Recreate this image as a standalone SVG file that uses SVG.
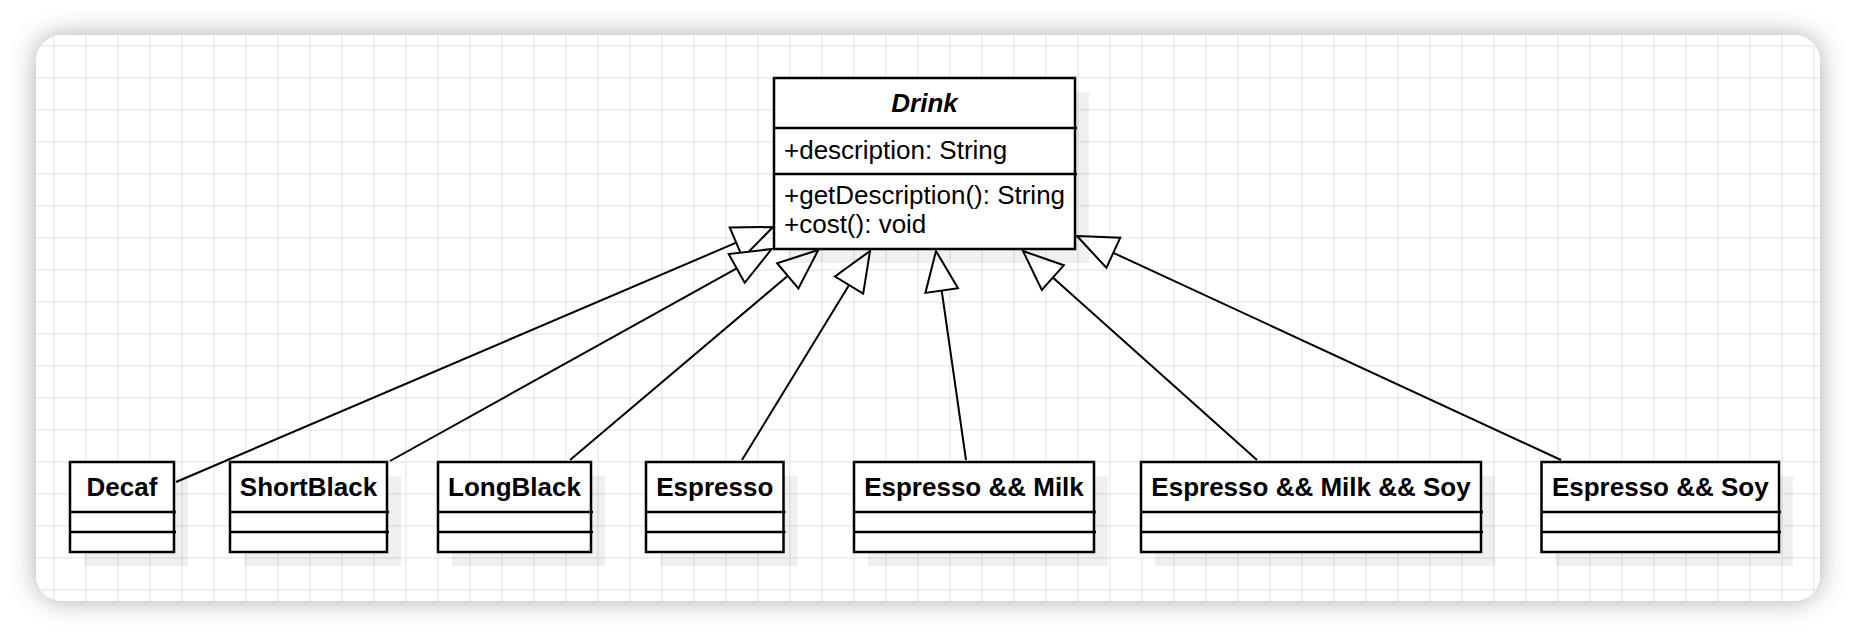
<svg xmlns="http://www.w3.org/2000/svg" width="1856" height="638" viewBox="0 0 1856 638">
<defs>
<style>
.box{fill:#fff;stroke:#000;stroke-width:2.5}
.sep{stroke:#000;stroke-width:2.5;fill:none}
.shd{fill:#000;fill-opacity:0.06}
.name{font-family:"Liberation Sans",Arial,sans-serif;font-size:26px;font-weight:bold;text-anchor:middle;fill:#000}
.attr{font-family:"Liberation Sans",Arial,sans-serif;font-size:26px;fill:#000}
.edge{stroke:#000;stroke-width:2;fill:none}
.head{fill:#fff;stroke:#000;stroke-width:2;stroke-linejoin:miter}
</style>
<filter id="cardShadow" x="-5%" y="-12%" width="110%" height="124%">
<feDropShadow dx="0" dy="0" stdDeviation="13" flood-color="#000" flood-opacity="0.32"/>
</filter>
<pattern id="grid" x="0" y="0" width="32" height="32" patternUnits="userSpaceOnUse">
<path d="M22 0 V32 M0 14 H32" stroke="#ebebeb" stroke-width="1.5" fill="none"/>
</pattern>
<clipPath id="cardClip"><rect x="36" y="35" width="1784" height="566" rx="26" ry="26"/></clipPath>
</defs>
<rect x="0" y="0" width="1856" height="638" fill="#fff"/>
<rect x="36" y="35" width="1784" height="566" rx="26" ry="26" fill="#fff" filter="url(#cardShadow)"/>
<rect x="36" y="35" width="1784" height="566" fill="url(#grid)" clip-path="url(#cardClip)"/>

<g id="connectors">
<line class="edge" x1="176" y1="482" x2="736.2" y2="242.7"/>
<polygon class="head" points="773,227 742.7,257.9 729.7,227.5"/>
<line class="edge" x1="390" y1="461" x2="736.7" y2="268.4"/>
<polygon class="head" points="771.7,249 744.7,282.8 728.7,254"/>
<line class="edge" x1="570" y1="460" x2="787.8" y2="275.8"/>
<polygon class="head" points="818.3,250 798.4,288.4 777.1,263.2"/>
<line class="edge" x1="742" y1="460" x2="849.1" y2="285.1"/>
<polygon class="head" points="870,251 863.2,293.7 835,276.5"/>
<line class="edge" x1="966" y1="460" x2="941.7" y2="290.6"/>
<polygon class="head" points="936,251 958,288.3 925.4,292.9"/>
<line class="edge" x1="1257" y1="460" x2="1052.8" y2="277.6"/>
<polygon class="head" points="1023,251 1063.8,265.3 1041.8,290"/>
<line class="edge" x1="1561" y1="460" x2="1113.3" y2="252.8"/>
<polygon class="head" points="1077,236 1120.2,237.8 1106.4,267.8"/>
</g>

<g id="drink">
<rect class="shd" x="788" y="92" width="301" height="171"/>
<rect class="box" x="774" y="78" width="301" height="171"/>
<line class="sep" x1="774" y1="128" x2="1077" y2="128"/>
<line class="sep" x1="774" y1="174" x2="1077" y2="174"/>
<text class="name" x="924.5" y="112" font-style="italic">Drink</text>
<text class="attr" x="784" y="159">+description: String</text>
<text class="attr" x="784" y="204">+getDescription(): String</text>
<text class="attr" x="784" y="233">+cost(): void</text>
</g>

<g id="decaf">
<rect class="shd" x="84" y="476" width="104" height="90"/>
<rect class="box" x="70" y="462" width="104" height="90"/>
<line class="sep" x1="70" y1="512" x2="176" y2="512"/>
<line class="sep" x1="70" y1="532" x2="176" y2="532"/>
<text class="name" x="122" y="496">Decaf</text>
</g>

<g id="shortblack">
<rect class="shd" x="244" y="476" width="157" height="90"/>
<rect class="box" x="230" y="462" width="157" height="90"/>
<line class="sep" x1="230" y1="512" x2="389" y2="512"/>
<line class="sep" x1="230" y1="532" x2="389" y2="532"/>
<text class="name" x="308.5" y="496">ShortBlack</text>
</g>

<g id="longblack">
<rect class="shd" x="452" y="476" width="153" height="90"/>
<rect class="box" x="438" y="462" width="153" height="90"/>
<line class="sep" x1="438" y1="512" x2="593" y2="512"/>
<line class="sep" x1="438" y1="532" x2="593" y2="532"/>
<text class="name" x="514.5" y="496">LongBlack</text>
</g>

<g id="espresso">
<rect class="shd" x="660" y="476" width="137.5" height="90"/>
<rect class="box" x="646" y="462" width="137.5" height="90"/>
<line class="sep" x1="646" y1="512" x2="785.5" y2="512"/>
<line class="sep" x1="646" y1="532" x2="785.5" y2="532"/>
<text class="name" x="714.8" y="496">Espresso</text>
</g>

<g id="espresso-milk">
<rect class="shd" x="868" y="476" width="240" height="90"/>
<rect class="box" x="854" y="462" width="240" height="90"/>
<line class="sep" x1="854" y1="512" x2="1096" y2="512"/>
<line class="sep" x1="854" y1="532" x2="1096" y2="532"/>
<text class="name" x="974" y="496">Espresso &amp;&amp; Milk</text>
</g>

<g id="espresso-milk-soy">
<rect class="shd" x="1155" y="476" width="340" height="90"/>
<rect class="box" x="1141" y="462" width="340" height="90"/>
<line class="sep" x1="1141" y1="512" x2="1483" y2="512"/>
<line class="sep" x1="1141" y1="532" x2="1483" y2="532"/>
<text class="name" x="1311" y="496">Espresso &amp;&amp; Milk &amp;&amp; Soy</text>
</g>

<g id="espresso-soy">
<rect class="shd" x="1555.5" y="476" width="237.5" height="90"/>
<rect class="box" x="1541.5" y="462" width="237.5" height="90"/>
<line class="sep" x1="1541.5" y1="512" x2="1781" y2="512"/>
<line class="sep" x1="1541.5" y1="532" x2="1781" y2="532"/>
<text class="name" x="1660.3" y="496">Espresso &amp;&amp; Soy</text>
</g>
</svg>
